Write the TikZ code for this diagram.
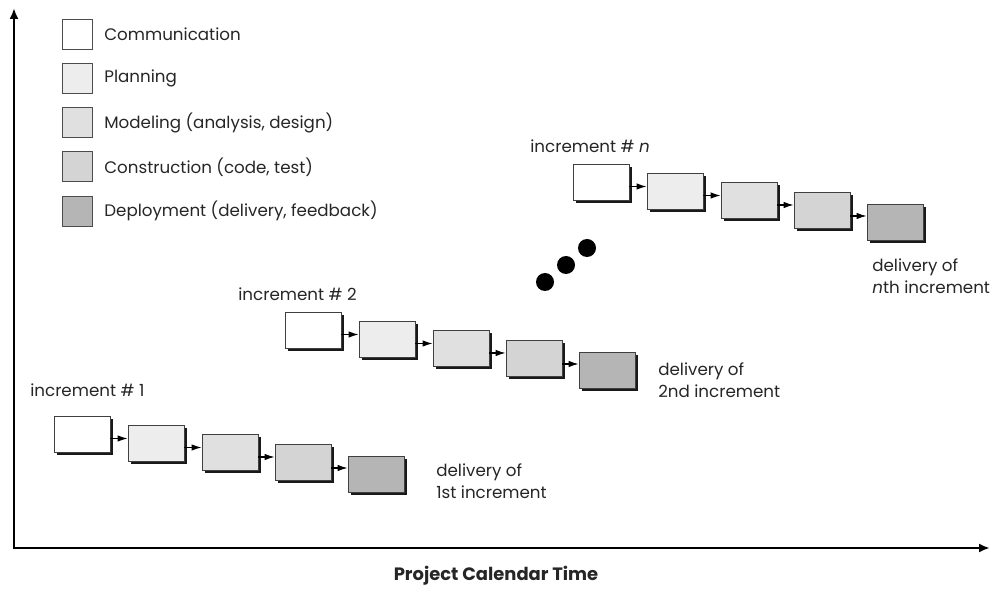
\documentclass[tikz,border=0pt]{standalone}
\usepackage{fontspec}
\setmainfont{Poppins}
\usetikzlibrary{arrows.meta,shadows,calc}

\definecolor{planfill}{gray}{0.93}
\definecolor{modfill}{gray}{0.88}
\definecolor{consfill}{gray}{0.83}
\definecolor{depfill}{gray}{0.71}

\tikzset{
  stage/.style={draw=black!75, line width=0.5pt, minimum width=1.12cm, minimum height=0.72cm, inner sep=0pt,
    drop shadow={shadow xshift=0.06cm, shadow yshift=-0.06cm, fill=black!90, opacity=1}},
  key/.style={draw=black!70, line width=0.5pt, minimum size=0.6cm, inner sep=0pt},
  flow/.style={-{Latex[length=0.2cm,width=0.13cm]}, line width=0.6pt},
  axis/.style={{Latex[length=0.22cm,width=0.18cm]}-{Latex[length=0.22cm,width=0.18cm]}, line width=1.7pt},
  lbl/.style={font=\fontsize{9.5}{12.5}\selectfont, text=black!85, inner sep=0pt},
}

\begin{document}
\begin{tikzpicture}[x=0.02cm, y=-0.02cm]
\useasboundingbox (0,0) rectangle (990,590);

% axes
\coordinate (origin) at (14,548);
\coordinate (ytop) at (14,8);
\coordinate (xend) at (990,548);
\draw[axis] (ytop) -- (origin) -- (xend);
\node[font=\bfseries\fontsize{10.2}{13}\selectfont, text=black!85] (timelabel) at (496,576) {Project Calendar Time};

% legend
\foreach \name/\col [count=\k from 0] in {Communication/white, Planning/planfill, {Modeling (analysis, design)}/modfill, {Construction (code, test)}/consfill, {Deployment (delivery, feedback)}/depfill} {
  \node[key, fill=\col] (key\k) at (77,34+44.3*\k) {};
  \node[lbl, anchor=west] (keytext\k) at (104,34+44.3*\k) {\name};
}

% increments: first box top-left corner
\foreach \inc/\ix/\iy in {one/54/416, two/285/312, nth/573/164} {
  \foreach \dx/\dy/\col [count=\i] in {0/0/white, 74/9/planfill, 148/18/modfill, 221/28/consfill, 294/40/depfill}
    \node[stage, fill=\col] (\inc\i) at (\ix+\dx+28,\iy+\dy+18) {};
  \foreach \i [count=\j from 2] in {1,...,4} {
    \coordinate (\inc-m\i) at ($(\inc\i.center)!0.5!(\inc\j.center)$);
    \draw[flow] (\inc\i.east |- \inc-m\i) -- (\inc\j.west |- \inc-m\i);
  }
}

\node[lbl, anchor=west] (inclabel1) at (30,390) {increment \# 1};
\node[lbl, anchor=west] (inclabel2) at (238,294) {increment \# 2};
\node[lbl, anchor=west] (inclabeln) at (530,146) {increment \# \textit{n}};

\node[lbl, anchor=west, align=left] (delivery1) at (436,481) {delivery of\\1st increment};
\node[lbl, anchor=west, align=left] (delivery2) at (658,380) {delivery of\\2nd increment};
\node[lbl, anchor=west, align=left] (deliveryn) at (872,276) {delivery of\\\textit{n}th increment};

% more increments
\fill (545,282) circle[radius=0.18cm];
\fill (566,265) circle[radius=0.18cm];
\fill (587,248) circle[radius=0.18cm];

\end{tikzpicture}
\end{document}
